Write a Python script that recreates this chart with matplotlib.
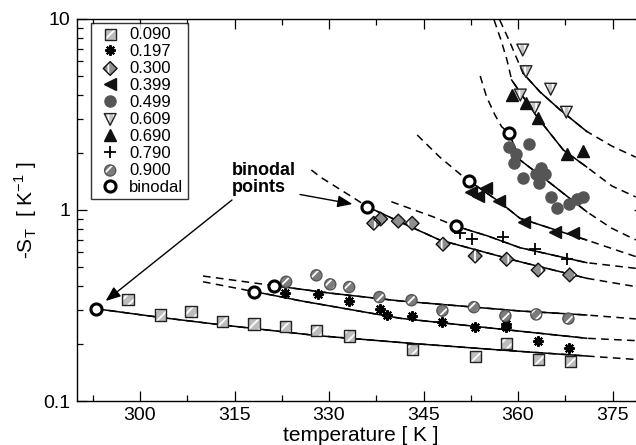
import matplotlib
matplotlib.use('Agg')
import matplotlib.pyplot as plt
import numpy as np
from matplotlib.ticker import MultipleLocator, FixedLocator, NullFormatter, FuncFormatter

plt.rcParams['font.family'] = ['Liberation Sans', 'DejaVu Sans']
plt.rcParams['hatch.color'] = 'white'
plt.rcParams['hatch.linewidth'] = 1.3

# measured thermodiffusion data, -S_T [1/K] vs temperature [K]
T_090 = [298.1, 303.2, 308.1, 313.1, 318.1, 323.1, 328.0, 333.2, 343.3, 353.2, 358.2, 363.2, 368.3]
S_090 = [0.340, 0.282, 0.293, 0.262, 0.253, 0.245, 0.233, 0.219, 0.186, 0.171, 0.199, 0.165, 0.161]

T_197 = [323.0, 328.2, 333.2, 338.1, 339.2, 343.2, 348.0, 353.2, 358.1, 358.1, 363.2, 368.1]
S_197 = [0.366, 0.362, 0.335, 0.303, 0.282, 0.280, 0.260, 0.243, 0.252, 0.245, 0.207, 0.190]

T_300 = [337.1, 338.2, 341.0, 343.2, 348.1, 353.2, 358.2, 363.2, 368.2]
S_300 = [0.852, 0.897, 0.875, 0.852, 0.662, 0.574, 0.552, 0.485, 0.457]

T_399 = [352.5, 353.7, 354.9, 357.0, 361.0, 365.9, 368.8]
S_399 = [1.242, 1.177, 1.303, 1.121, 0.868, 0.767, 0.755]

T_499 = [358.65, 361.71, 359.73, 359.32, 360.75, 362.86, 363.73, 364.29, 363.33,
         365.24, 366.19, 368.17, 369.32, 370.27]
S_499 = [2.145, 2.224, 1.965, 1.762, 1.462, 1.544, 1.669, 1.544, 1.380,
         1.163, 1.024, 1.081, 1.135, 1.163]

T_609 = [360.75, 361.27, 365.19, 360.37, 362.65, 367.67]
S_609 = [6.88, 5.30, 4.29, 4.00, 3.42, 3.25]

T_690 = [359.0, 361.27, 363.22, 367.78, 370.27]
S_690 = [4.00, 3.65, 3.02, 1.96, 2.04]

T_790 = [350.8, 352.7, 357.6, 362.7, 367.8]
S_790 = [0.758, 0.709, 0.720, 0.623, 0.556]

T_900 = [323.2, 328.0, 330.2, 333.2, 338.0, 343.1, 348.0, 353.0, 358.0, 362.9, 368.0]
S_900 = [0.421, 0.455, 0.408, 0.395, 0.350, 0.337, 0.297, 0.310, 0.279, 0.284, 0.270]

T_bin = [293.0, 318.1, 321.2, 336.1, 350.1, 352.2, 358.6]
S_bin = [0.304, 0.374, 0.402, 1.04, 0.824, 1.424, 2.52]

# fit curves (solid between fit_lo and fit_hi, dashed outside)
fit_090_T = [293.0, 303.2, 313.1, 328.1, 343.3, 357.1, 370.9, 378.7]
fit_090_S = [0.304, 0.274, 0.250, 0.220, 0.200, 0.185, 0.172, 0.165]
fit_197_T = [310.0, 318.1, 322.2, 325.4, 341.3, 360.3, 370.9, 378.7]
fit_197_S = [0.421, 0.374, 0.352, 0.335, 0.271, 0.232, 0.213, 0.207]
fit_900_T = [310.0, 321.2, 330.2, 341.3, 360.3, 370.9, 378.7]
fit_900_S = [0.451, 0.402, 0.367, 0.334, 0.296, 0.282, 0.269]
fit_300_T = [327.2, 328.6, 334.4, 336.1, 341.3, 347.6, 360.3, 370.9, 378.7]
fit_300_S = [1.62, 1.49, 1.13, 1.04, 0.865, 0.696, 0.536, 0.439, 0.397]
fit_790_T = [339.9, 346.5, 350.1, 355.2, 360.3, 370.9, 378.7]
fit_790_S = [1.105, 0.922, 0.824, 0.731, 0.635, 0.530, 0.495]
fit_399_T = [344.0, 347.6, 351.3, 352.2, 357.1, 360.3, 370.9, 378.7]
fit_399_S = [2.47, 1.89, 1.494, 1.424, 1.10, 0.905, 0.696, 0.570]
fit_499_T = [354.0, 355.0, 356.35, 357.4, 358.6, 360.3, 365.1, 370.9, 374.8, 378.7]
fit_499_S = [5.03, 3.92, 3.14, 2.73, 2.52, 1.83, 1.385, 0.98, 0.805, 0.697]
fit_609_T = [357.1, 358.7, 360.8, 363.5, 366.7, 370.9, 374.9, 378.7]
fit_609_S = [9.88, 7.58, 5.20, 4.15, 3.34, 2.58, 2.16, 1.89]
fit_690_T = [356.2, 357.3, 358.25, 359.0, 361.27, 363.2, 367.2, 370.9, 374.9, 378.7]
fit_690_S = [9.88, 7.76, 6.10, 4.79, 3.72, 3.02, 2.06, 1.68, 1.336, 1.17]

fits = [(fit_090_T, fit_090_S, 293.0), (fit_197_T, fit_197_S, 318.1),
        (fit_900_T, fit_900_S, 321.2), (fit_300_T, fit_300_S, 336.1),
        (fit_790_T, fit_790_S, 350.1), (fit_399_T, fit_399_S, 352.2),
        (fit_499_T, fit_499_S, 358.6), (fit_609_T, fit_609_S, 360.8),
        (fit_690_T, fit_690_S, 359.0)]
fit_hi = 370.9

fig = plt.figure(figsize=(6.36, 4.45), dpi=100)
ax = fig.add_axes([77/636, 44/445, 567/636, 382/445])

for ft, fs, lo in fits:
    ft = np.array(ft); fs = np.array(fs)
    ax.plot(ft, fs, color='k', lw=1.1, ls=(0, (5, 3.5)), zorder=2)
    m = (ft >= lo - 1e-6) & (ft <= fit_hi + 1e-6)
    ax.plot(ft[m], fs[m], color='k', lw=1.1, zorder=2)


def hatched(T, S, marker, size, face, edge, hatch):
    a = ax.scatter(T, S, s=size**2, marker=marker, facecolor=face,
                   edgecolor='white', hatch=hatch, linewidths=0, zorder=3)
    b = ax.scatter(T, S, s=size**2, marker=marker, facecolor='none',
                   edgecolor=edge, linewidths=1.0, zorder=3)
    return (a, b)


h090 = hatched(T_090, S_090, 's', 8, '#bdbdbd', '#222222', '///')
h197, = ax.plot(T_197, S_197, ls='none', marker=(8, 2, 0), ms=7.5, mew=1.5, color='k', zorder=3)
h300 = hatched(T_300, S_300, 'D', 7, '#8e8e8e', '#111111', '|')
h399, = ax.plot(T_399, S_399, ls='none', marker='<', ms=9, color='#111111', zorder=3)
h499, = ax.plot(T_499, S_499, ls='none', marker='o', ms=8, color='#555555', mec='#555555', zorder=3)
h609 = hatched(T_609, S_609, 'v', 8.5, '#c4c4c4', '#222222', '|||')
h690, = ax.plot(T_690, S_690, ls='none', marker='^', ms=9, color='#111111', zorder=3)
h790, = ax.plot(T_790, S_790, ls='none', marker='+', ms=8, mew=1.3, color='k', zorder=3)
h900 = hatched(T_900, S_900, 'o', 8, '#7c7c7c', '#555555', '///')
hbin, = ax.plot(T_bin, S_bin, ls='none', marker='o', ms=8, mew=2.2, mfc='white', mec='k', zorder=4)

ax.set_yscale('log')
ax.set_xlim(290, 380)
ax.set_ylim(0.1, 10)
ax.xaxis.set_major_locator(MultipleLocator(15))
ax.xaxis.set_minor_locator(MultipleLocator(7.5))
ax.yaxis.set_major_locator(FixedLocator([0.1, 1, 10]))
ax.yaxis.set_major_formatter(FuncFormatter(lambda v, p: '%g' % v))
ax.yaxis.set_minor_formatter(NullFormatter())
ax.tick_params(which='both', direction='in', top=True, right=True, width=0.9, labelsize=14, pad=4.5)
ax.tick_params(which='major', length=7)
ax.tick_params(which='minor', length=4)
for sp in ax.spines.values():
    sp.set_linewidth(1.0)

ax.set_xlabel('temperature [ K ]', fontsize=15, labelpad=1)
ax.set_ylabel(r'-S$_\mathregular{T}$  [ K$^\mathregular{-1}$ ]', fontsize=15, labelpad=3)

labels = ['0.090', '0.197', '0.300', '0.399', '0.499', '0.609', '0.690', '0.790', '0.900', 'binodal']
handles = [h090, h197, h300, h399, h499, h609, h690, h790, h900, hbin]
leg = ax.legend(handles, labels, loc='upper left', bbox_to_anchor=((91-77)/567, (401-22.7)/382),
                borderaxespad=0, fontsize=12, frameon=True, fancybox=False, edgecolor='k',
                handlelength=1.8, handletextpad=0.25, borderpad=0.25, labelspacing=0.12,
                scatterpoints=1, numpoints=1)
leg.get_frame().set_linewidth(1.0)
leg.set_zorder(5)

ax.text((232-77)/567, (401-179)/382, 'binodal\npoints', transform=ax.transAxes,
        fontsize=13, fontweight='bold', ha='left', va='center', linespacing=0.95)
arrow = dict(arrowstyle='-|>,head_length=0.5,head_width=0.2', mutation_scale=18,
             color='k', lw=1.0, shrinkA=0)
ax.annotate('', xy=(T_bin[0], S_bin[0]), xytext=((232-77)/567, (401-200)/382),
            textcoords='axes fraction', arrowprops=dict(arrow, shrinkB=9))
ax.annotate('', xy=(T_bin[3], S_bin[3]), xytext=((300-77)/567, (401-194.5)/382),
            textcoords='axes fraction', arrowprops=dict(arrow, shrinkB=11))

fig.savefig('out.png', dpi=100)
